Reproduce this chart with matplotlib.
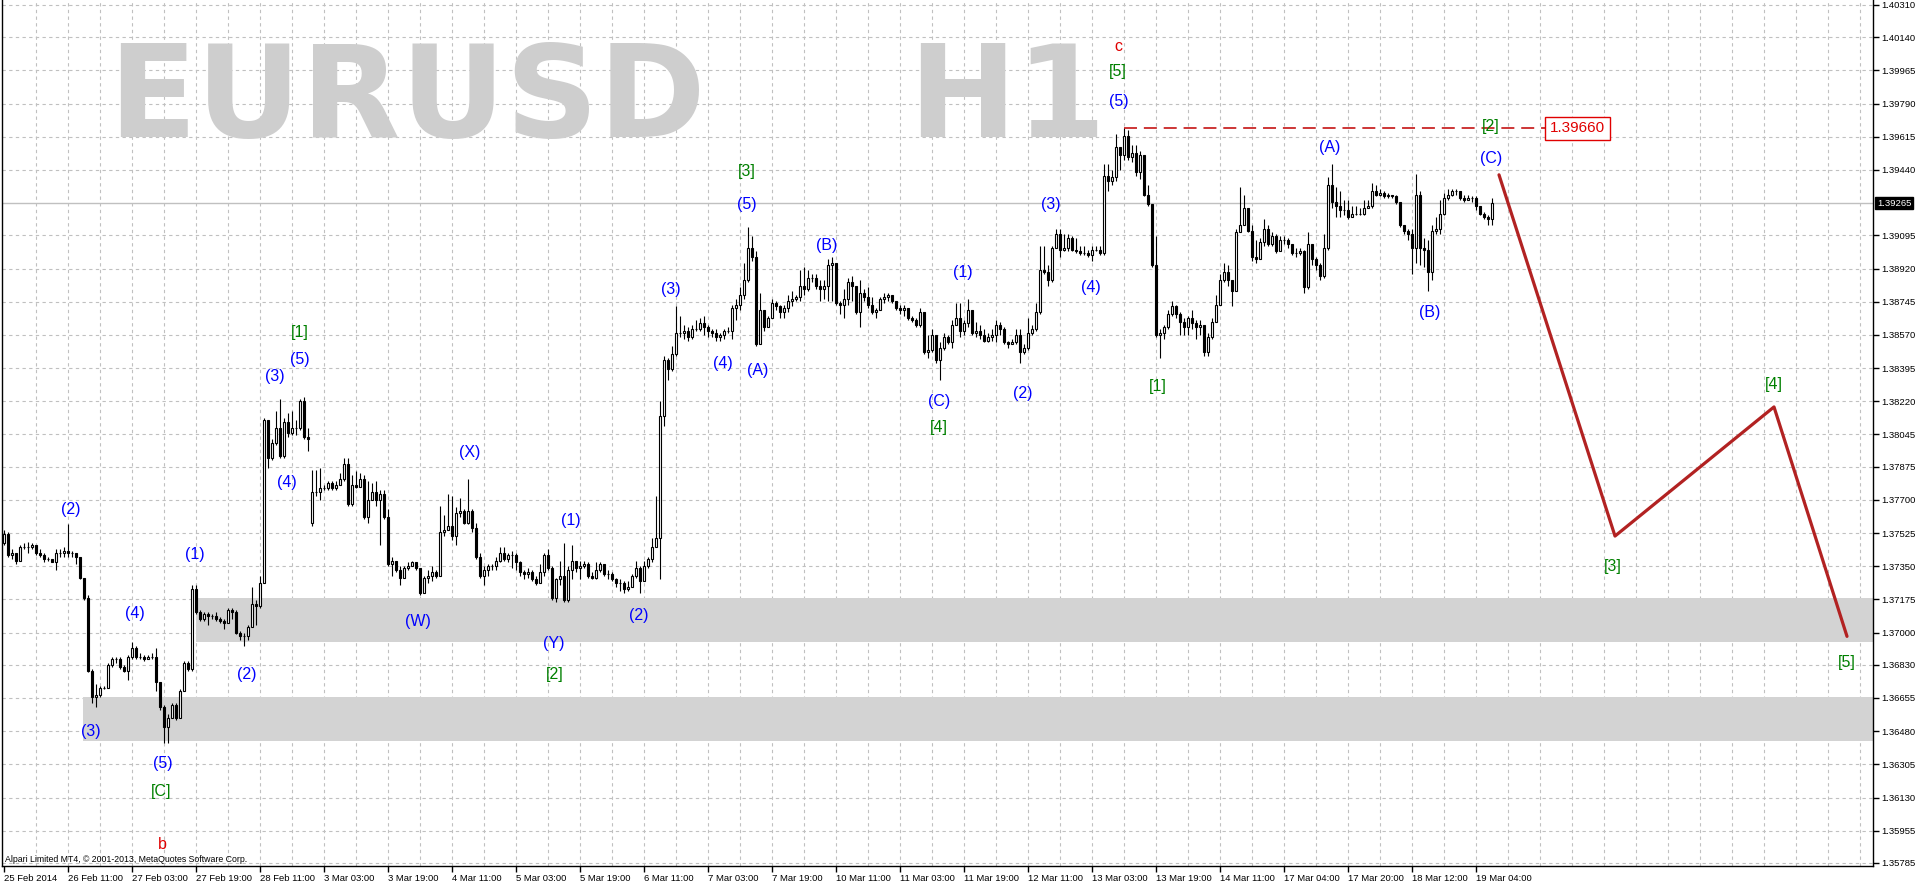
import numpy as np
import matplotlib.pyplot as plt

plt.rcParams['font.family'] = ['Liberation Sans', 'DejaVu Sans']

# EURUSD H1, 25 Feb - 19 Mar 2014, prices as 1.xxxx -> pips after the "1."
close_pips = [
    3752, 3741, 3742, 3738, 3745, 3745, 3745, 3746, 3742, 3741, 3739, 3739, 3737, 3742, 3742, 3743,
    3742, 3742, 3740, 3729, 3718, 3680, 3666, 3667, 3671, 3671, 3683, 3686, 3686, 3682, 3680, 3687,
    3692, 3687, 3687, 3686, 3687, 3687, 3674, 3661, 3650, 3655, 3662, 3655, 3669, 3684, 3681, 3723,
    3711, 3707, 3710, 3709, 3709, 3707, 3706, 3705, 3712, 3711, 3700, 3698, 3698, 3703, 3715, 3714,
    3726, 3812, 3792, 3800, 3808, 3793, 3811, 3805, 3808, 3808, 3822, 3803, 3802, 3774, 3774, 3776,
    3776, 3779, 3776, 3778, 3781, 3789, 3768, 3778, 3777, 3781, 3761, 3770, 3774, 3770, 3773, 3761,
    3736, 3738, 3733, 3729, 3734, 3735, 3737, 3734, 3721, 3729, 3730, 3732, 3730, 3753, 3754, 3756,
    3751, 3763, 3764, 3758, 3764, 3755, 3740, 3730, 3733, 3735, 3735, 3738, 3742, 3739, 3741, 3741,
    3737, 3732, 3731, 3732, 3728, 3726, 3732, 3741, 3734, 3718, 3728, 3730, 3717, 3733, 3738, 3734,
    3735, 3736, 3730, 3729, 3733, 3736, 3731, 3731, 3728, 3726, 3726, 3723, 3724, 3730, 3734, 3727,
    3735, 3739, 3745, 3750, 3814, 3844, 3839, 3847, 3858, 3858, 3859, 3856, 3860, 3860, 3863, 3861,
    3859, 3858, 3856, 3857, 3859, 3859, 3871, 3873, 3878, 3886, 3903, 3898, 3852, 3870, 3861, 3866,
    3874, 3872, 3869, 3871, 3875, 3876, 3877, 3883, 3881, 3887, 3887, 3883, 3881, 3883, 3894, 3895,
    3874, 3873, 3876, 3885, 3883, 3869, 3879, 3877, 3873, 3869, 3870, 3876, 3877, 3878, 3875, 3871,
    3870, 3871, 3866, 3865, 3862, 3869, 3848, 3849, 3857, 3844, 3850, 3856, 3853, 3862, 3866, 3859,
    3863, 3870, 3858, 3859, 3857, 3854, 3856, 3857, 3862, 3860, 3853, 3852, 3853, 3857, 3848, 3850,
    3858, 3860, 3869, 3891, 3890, 3886, 3903, 3910, 3902, 3903, 3908, 3902, 3901, 3900, 3900, 3899,
    3902, 3902, 3900, 3941, 3938, 3940, 3956, 3952, 3962, 3951, 3953, 3943, 3952, 3931, 3926, 3894,
    3857, 3858, 3861, 3868, 3872, 3868, 3864, 3861, 3866, 3863, 3861, 3862, 3848, 3856, 3864, 3873,
    3886, 3890, 3886, 3880, 3911, 3915, 3924, 3912, 3898, 3897, 3906, 3913, 3905, 3909, 3901, 3907,
    3907, 3905, 3900, 3900, 3901, 3882, 3905, 3897, 3894, 3888, 3903, 3936, 3927, 3925, 3923, 3923,
    3919, 3921, 3921, 3921, 3924, 3925, 3933, 3931, 3932, 3930, 3931, 3930, 3927, 3915, 3912, 3910,
    3903, 3931, 3903, 3902, 3890, 3912, 3913, 3921, 3929, 3931, 3933, 3933, 3929, 3928, 3929, 3929,
    3925, 3921, 3919, 3918, 3926.5,
]
high_pips = [
    3754, 3753, 3744, 3742, 3746, 3747, 3748, 3747, 3746, 3744, 3742, 3740, 3739, 3744, 3744, 3745,
    3757, 3743, 3742, 3740, 3729, 3720, 3681, 3673, 3672, 3672, 3684, 3687, 3687, 3687, 3683, 3688,
    3695, 3693, 3689, 3688, 3688, 3689, 3692, 3674, 3662, 3657, 3663, 3663, 3670, 3685, 3685, 3725,
    3725, 3712, 3711, 3711, 3710, 3711, 3708, 3707, 3713, 3713, 3712, 3701, 3700, 3704, 3724, 3717,
    3730, 3813, 3794, 3802, 3817, 3823, 3813, 3816, 3817, 3812, 3823, 3824, 3808, 3786, 3786, 3787,
    3778, 3780, 3780, 3780, 3784, 3792, 3792, 3783, 3785, 3784, 3783, 3780, 3779, 3780, 3775, 3775,
    3765, 3740, 3738, 3735, 3735, 3737, 3738, 3737, 3734, 3730, 3733, 3735, 3733, 3767, 3762, 3773,
    3772, 3766, 3771, 3765, 3781, 3765, 3758, 3742, 3735, 3736, 3736, 3740, 3745, 3745, 3742, 3743,
    3742, 3738, 3733, 3734, 3733, 3730, 3736, 3742, 3744, 3735, 3729, 3738, 3747, 3735, 3746, 3738,
    3738, 3738, 3737, 3732, 3737, 3737, 3736, 3733, 3732, 3729, 3728, 3727, 3727, 3731, 3738, 3735,
    3738, 3740, 3750, 3772, 3822, 3846, 3845, 3851, 3872, 3867, 3862, 3861, 3862, 3865, 3866, 3867,
    3862, 3860, 3860, 3858, 3860, 3861, 3873, 3876, 3882, 3895, 3914, 3909, 3901, 3879, 3870, 3867,
    3876, 3875, 3873, 3873, 3878, 3880, 3878, 3891, 3893, 3891, 3889, 3889, 3886, 3886, 3897, 3898,
    3895, 3875, 3881, 3887, 3888, 3883, 3886, 3881, 3882, 3877, 3871, 3877, 3879, 3879, 3878, 3875,
    3873, 3873, 3871, 3867, 3866, 3871, 3865, 3857, 3860, 3857, 3853, 3858, 3857, 3865, 3874, 3874,
    3865, 3876, 3870, 3864, 3862, 3860, 3858, 3860, 3865, 3864, 3861, 3854, 3855, 3860, 3860, 3852,
    3866, 3862, 3874, 3904, 3904, 3894, 3904, 3913, 3913, 3910, 3910, 3909, 3908, 3904, 3904, 3902,
    3904, 3904, 3904, 3947, 3947, 3944, 3963, 3956, 3966, 3965, 3957, 3957, 3954, 3949, 3936, 3926,
    3909, 3860, 3862, 3870, 3875, 3873, 3869, 3866, 3867, 3870, 3865, 3865, 3862, 3858, 3866, 3878,
    3889, 3895, 3894, 3886, 3913, 3935, 3931, 3924, 3915, 3907, 3908, 3918, 3915, 3911, 3910, 3909,
    3909, 3908, 3905, 3903, 3903, 3902, 3911, 3905, 3898, 3895, 3910, 3940, 3947, 3935, 3933, 3928,
    3928, 3925, 3925, 3924, 3928, 3928, 3937, 3936, 3934, 3933, 3932, 3931, 3931, 3927, 3915, 3913,
    3913, 3942, 3933, 3908, 3907, 3915, 3919, 3928, 3932, 3934, 3934, 3934, 3933, 3931, 3931, 3930,
    3930, 3925, 3922, 3920, 3929,
]
low_pips = [
    3746, 3740, 3739, 3736, 3738, 3744, 3742, 3744, 3741, 3740, 3737, 3738, 3737, 3733, 3740, 3740,
    3740, 3740, 3736, 3728, 3717, 3679, 3663, 3661, 3666, 3670, 3671, 3682, 3684, 3681, 3679, 3675,
    3686, 3686, 3686, 3685, 3686, 3686, 3669, 3659, 3642, 3642, 3655, 3654, 3655, 3669, 3680, 3680,
    3710, 3706, 3706, 3704, 3707, 3706, 3705, 3702, 3705, 3707, 3699, 3696, 3693, 3696, 3703, 3704,
    3713, 3726, 3787, 3791, 3799, 3792, 3792, 3803, 3804, 3804, 3807, 3802, 3796, 3756, 3772, 3770,
    3775, 3775, 3775, 3775, 3778, 3780, 3767, 3767, 3776, 3777, 3760, 3758, 3770, 3767, 3746, 3760,
    3735, 3730, 3732, 3725, 3729, 3733, 3735, 3733, 3720, 3721, 3726, 3727, 3729, 3730, 3751, 3754,
    3749, 3746, 3761, 3757, 3757, 3753, 3739, 3729, 3725, 3730, 3733, 3733, 3737, 3738, 3737, 3734,
    3733, 3730, 3728, 3729, 3727, 3725, 3726, 3730, 3733, 3717, 3716, 3725, 3716, 3716, 3728, 3732,
    3728, 3734, 3729, 3728, 3728, 3732, 3730, 3728, 3727, 3724, 3722, 3721, 3722, 3724, 3729, 3721,
    3727, 3734, 3737, 3745, 3728, 3809, 3833, 3838, 3846, 3856, 3855, 3854, 3855, 3859, 3859, 3857,
    3856, 3856, 3854, 3854, 3855, 3858, 3855, 3865, 3870, 3876, 3885, 3896, 3851, 3852, 3859, 3862,
    3866, 3870, 3866, 3866, 3869, 3872, 3875, 3875, 3878, 3880, 3885, 3881, 3875, 3876, 3875, 3875,
    3873, 3868, 3866, 3873, 3875, 3868, 3861, 3875, 3871, 3868, 3866, 3870, 3874, 3875, 3874, 3870,
    3868, 3867, 3865, 3864, 3861, 3861, 3847, 3845, 3848, 3842, 3833, 3849, 3852, 3850, 3862, 3856,
    3857, 3861, 3857, 3856, 3855, 3853, 3853, 3854, 3853, 3857, 3852, 3850, 3852, 3852, 3842, 3847,
    3849, 3857, 3859, 3868, 3889, 3883, 3885, 3903, 3898, 3901, 3901, 3901, 3900, 3899, 3899, 3898,
    3896, 3901, 3899, 3899, 3933, 3936, 3938, 3944, 3949, 3949, 3948, 3941, 3939, 3930, 3925, 3893,
    3856, 3845, 3855, 3860, 3867, 3866, 3857, 3857, 3857, 3860, 3855, 3857, 3846, 3846, 3855, 3864,
    3873, 3885, 3883, 3872, 3880, 3912, 3915, 3911, 3896, 3895, 3898, 3904, 3904, 3904, 3900, 3901,
    3905, 3903, 3899, 3898, 3899, 3879, 3881, 3894, 3891, 3886, 3887, 3902, 3924, 3919, 3919, 3920,
    3918, 3919, 3920, 3920, 3920, 3924, 3924, 3930, 3930, 3929, 3929, 3929, 3926, 3914, 3910, 3907,
    3889, 3895, 3894, 3893, 3880, 3886, 3910, 3910, 3920, 3928, 3930, 3931, 3928, 3927, 3928, 3927,
    3923, 3920, 3918, 3915, 3915,
]
first_open = 3747
gap_open = {77: 3758}   # weekend gap 28 Feb -> 3 Mar

price_ticks = [1.40310, 1.40140, 1.39965, 1.39790, 1.39615, 1.39440, 1.39095, 1.38920,
               1.38745, 1.38570, 1.38395, 1.38220, 1.38045, 1.37875, 1.37700, 1.37525,
               1.37350, 1.37175, 1.37000, 1.36830, 1.36655, 1.36480, 1.36305, 1.36130,
               1.35955, 1.35785]
time_labels = ["25 Feb 2014", "26 Feb 11:00", "27 Feb 03:00", "27 Feb 19:00", "28 Feb 11:00",
               "3 Mar 03:00", "3 Mar 19:00", "4 Mar 11:00", "5 Mar 03:00", "5 Mar 19:00",
               "6 Mar 11:00", "7 Mar 03:00", "7 Mar 19:00", "10 Mar 11:00", "11 Mar 03:00",
               "11 Mar 19:00", "12 Mar 11:00", "13 Mar 03:00", "13 Mar 19:00", "14 Mar 11:00",
               "17 Mar 04:00", "17 Mar 20:00", "18 Mar 12:00", "19 Mar 04:00"]

# wave labels: text, bar, price (pips)
blue_labels = [("(2)", 16.75, 3765), ("(1)", 47.75, 3741), ("(4)", 32.75, 3710), ("(3)", 21.75, 3648),
               ("(5)", 39.75, 3631), ("(2)", 60.75, 3678), ("(3)", 67.75, 3835), ("(5)", 74.0, 3844),
               ("(4)", 70.75, 3779), ("(X)", 116.5, 3795), ("(W)", 103.5, 3706), ("(Y)", 137.5, 3694),
               ("(1)", 141.75, 3759), ("(2)", 158.75, 3709), ("(3)", 166.75, 3881), ("(4)", 179.75, 3842),
               ("(A)", 188.5, 3838), ("(5)", 185.75, 3926), ("(B)", 205.75, 3904), ("(1)", 239.75, 3890),
               ("(C)", 233.75, 3822), ("(2)", 254.75, 3826), ("(3)", 261.75, 3926), ("(4)", 271.75, 3882),
               ("(5)", 278.75, 3980), ("(A)", 331.5, 3956), ("(B)", 356.5, 3869), ("(C)", 371.75, 3950)]
green_labels = [("[1]", 74.0, 3858), ("[3]", 185.75, 3943), ("[5]", 278.5, 3996), ("[4]", 233.75, 3808),
                ("[2]", 137.75, 3678), ("[C]", 39.25, 3616), ("[1]", 288.5, 3830), ("[2]", 371.75, 3967),
                ("[3]", 402.25, 3735), ("[4]", 442.5, 3831), ("[5]", 460.75, 3684)]
red_labels = [("c", 278.5, 4009), ("b", 39.5, 3588)]

# support zones (grey bands)
zone_start = [19.75, 48.0]
zone_low = [1.3643, 1.3695]
zone_high = [1.3666, 1.3718]

# projected wave [3]-[4]-[5]
proj_bar = [373.75, 402.75, 442.5, 460.75]
proj_price = [1.39414, 1.37509, 1.38190, 1.36980]

level = 1.39660
level_from = 280
level_to = 386.5
last_price = 1.39265

c = 1 + np.array(close_pips) / 1e4
h = 1 + np.array(high_pips) / 1e4
l = 1 + np.array(low_pips) / 1e4
o = np.r_[first_open, close_pips[:-1]].astype(float)
for k, v in gap_open.items():
    o[k] = v
o = 1 + o / 1e4
n = len(c)
idx = np.arange(n)
hi = np.maximum(h, np.maximum(o, c))
lo = np.minimum(l, np.minimum(o, c))
up = c >= o

fig = plt.figure(figsize=(19.16, 8.84), dpi=100)
ax = fig.add_axes([2 / 1916, 18 / 884, 1871 / 1916, 866 / 884])
ax.set_xlim(-0.5, 467.25)
ax.set_ylim(1.35769, 1.40336)

# grid
for p in price_ticks:
    ax.axhline(p, color='#c0c0c0', lw=0.8, ls=(0, (3, 3)), zorder=0)
for b in range(8, 468, 8):
    ax.axvline(b, color='#c0c0c0', lw=0.8, ls=(0, (3, 3)), zorder=0)

# zones
for s, zl, zh in zip(zone_start, zone_low, zone_high):
    ax.fill_between([s, 467.25], zl, zh, color='#d3d3d3', lw=0, zorder=1)

# big symbol caption
fig.text(108 / 1916, 1 - 137 / 884, "EURUSD", fontsize=93, fontweight='bold',
         color='#cecece', family='DejaVu Sans', va='baseline', ha='left', zorder=0.5)
fig.text(1106 / 1916, 1 - 137 / 884, "H1", fontsize=93, fontweight='bold',
         color='#cecece', family='DejaVu Sans', va='baseline', ha='right', zorder=0.5)

# current price line
ax.axhline(last_price, color='#c0c0c0', lw=1, zorder=1.5)

# candles
ax.vlines(idx, lo, hi, color='black', lw=0.8, zorder=3)
ax.bar(idx[up], (c - o)[up], bottom=o[up], width=0.6, facecolor='white',
       edgecolor='black', lw=0.8, zorder=4)
ax.bar(idx[~up], (c - o)[~up], bottom=o[~up], width=0.6, facecolor='black',
       edgecolor='black', lw=0.8, zorder=4)

# level 1.39660
ax.hlines(level, level_from, level_to, color='#c00000', lw=1.1, ls=(0, (8.5, 4.5)), zorder=5)
ax.text(level_to, level, "1.39660", color='#e00000', fontsize=11, ha='left', va='center',
        bbox=dict(facecolor='white', edgecolor='#e00000', boxstyle='square,pad=0.3', lw=1), zorder=6)

# projection
ax.plot(proj_bar, proj_price, color='#b22222', lw=2.3, solid_capstyle='round', zorder=5)

for txt, b, p in blue_labels:
    ax.text(b, 1 + p / 1e4, txt, color='#0000ff', fontsize=11.5, ha='center', va='center', zorder=7)
for txt, b, p in green_labels:
    ax.text(b, 1 + p / 1e4, txt, color='#008000', fontsize=11.5, ha='center', va='center', zorder=7)
for txt, b, p in red_labels:
    ax.text(b, 1 + p / 1e4, txt, color='#e00000', fontsize=11.5, ha='center', va='center', zorder=7)

# axes styling
for s in ['left', 'bottom', 'right']:
    ax.spines[s].set_color('black')
    ax.spines[s].set_linewidth(1)
ax.spines['top'].set_visible(False)
ax.yaxis.tick_right()
ax.set_yticks(price_ticks)
ax.set_yticklabels(["%.5f" % p for p in price_ticks])
ax.tick_params(axis='y', length=4, width=1, pad=2, labelsize=6.8, direction='out')
ax.set_xticks(np.arange(0, 16 * len(time_labels), 16))
ax.set_xticklabels(time_labels, ha='left')
ax.tick_params(axis='x', length=4, width=1, pad=2, labelsize=6.8, direction='out')

ax.annotate("1.39265", xy=(1.0, last_price), xycoords=('axes fraction', 'data'),
            xytext=(3, 0), textcoords='offset points', color='white', fontsize=6.8,
            va='center', ha='left', annotation_clip=False,
            bbox=dict(facecolor='black', edgecolor='black', boxstyle='square,pad=0.2'))

fig.text(5 / 1916, 1 - 860 / 884, "Alpari Limited MT4, © 2001-2013, MetaQuotes Software Corp.",
         fontsize=6.3, va='center', ha='left')

fig.savefig('out.png', dpi=100)
